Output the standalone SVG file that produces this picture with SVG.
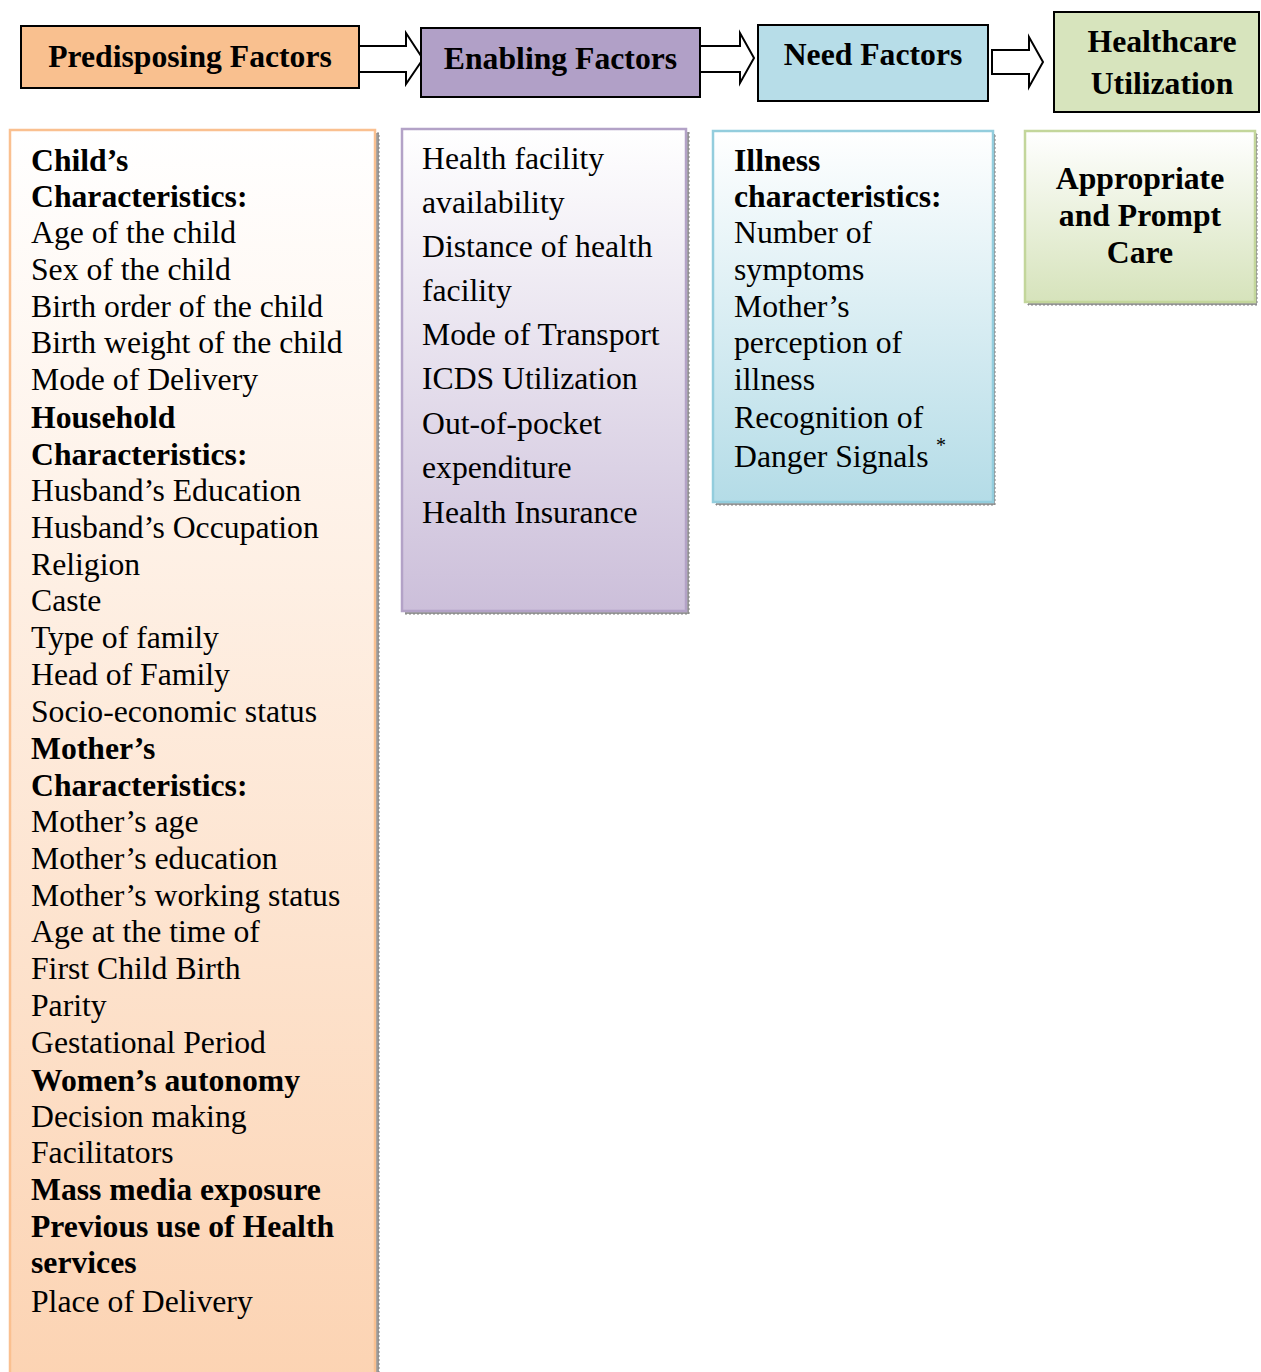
<svg xmlns="http://www.w3.org/2000/svg" width="1261" height="1372" viewBox="0 0 1261 1372">
<defs>
<linearGradient id="gP" x1="0" y1="0" x2="0" y2="1"><stop offset="0" stop-color="#FFFFFF"/><stop offset="1" stop-color="#FCD3B2"/></linearGradient>
<linearGradient id="gE" x1="0" y1="0" x2="0" y2="1"><stop offset="0" stop-color="#FFFFFF"/><stop offset="1" stop-color="#CCBFDA"/></linearGradient>
<linearGradient id="gN" x1="0" y1="0" x2="0" y2="1"><stop offset="0" stop-color="#FFFFFF"/><stop offset="1" stop-color="#B4DCE7"/></linearGradient>
<linearGradient id="gA" x1="0" y1="0" x2="0" y2="1"><stop offset="0" stop-color="#FFFFFF"/><stop offset="1" stop-color="#D6E3BB"/></linearGradient>
</defs>
<style>
text{font-family:"Liberation Serif","Times New Roman",serif;font-size:31.7px;fill:#000}
.b{font-weight:bold}
.c{text-anchor:middle}
.hdr{stroke:#000;stroke-width:2}
.arrow{fill:#FFFFFF;stroke:#000;stroke-width:2;stroke-linejoin:miter}
.shadow{fill:#9A9A9A;stroke:#808080;stroke-width:1;stroke-dasharray:2 2}
.box{stroke-width:2.5}
</style>

<g id="connectors">
<path class="arrow" d="M359,46 H406 V33 L423,59 L406,84 V72 H359 Z"/>
<path class="arrow" d="M700,46 H740 V33 L754,58 L740,83 V72 H700 Z"/>
<path class="arrow" d="M992,50 H1029 V37 L1043,62 L1029,87 V74 H992 Z"/>
</g>

<g id="predisposing-header">
<rect class="hdr" x="21" y="26" width="338" height="62" fill="#F9C08F"/>
<text class="b c" x="190" y="67">Predisposing Factors</text>
</g>
<g id="enabling-header">
<rect class="hdr" x="421" y="28" width="279" height="69" fill="#B1A0C7"/>
<text class="b c" x="560.5" y="69">Enabling Factors</text>
</g>
<g id="need-header">
<rect class="hdr" x="758" y="25" width="230" height="76" fill="#B7DDE8"/>
<text class="b c" x="873" y="65">Need Factors</text>
</g>
<g id="utilization-header">
<rect class="hdr" x="1054" y="12" width="205" height="100" fill="#D7E4BD"/>
<text class="b c" x="1162" y="52">Healthcare</text>
<text class="b c" x="1162" y="94">Utilization</text>
</g>

<g id="predisposing-list">
<rect class="shadow" x="13" y="133" width="366" height="1260"/>
<rect class="box" x="10" y="130" width="365" height="1260" fill="url(#gP)" stroke="#FAC090"/>
<text class="b" x="31" y="171">Child’s</text>
<text class="b" x="31" y="207">Characteristics:</text>
<text x="31" y="243">Age of the child</text>
<text x="31" y="280">Sex of the child</text>
<text x="31" y="317">Birth order of the child</text>
<text x="31" y="353">Birth weight of the child</text>
<text x="31" y="390">Mode of Delivery</text>
<text class="b" x="31" y="428">Household</text>
<text class="b" x="31" y="465">Characteristics:</text>
<text x="31" y="501">Husband’s Education</text>
<text x="31" y="538">Husband’s Occupation</text>
<text x="31" y="575">Religion</text>
<text x="31" y="611">Caste</text>
<text x="31" y="648">Type of family</text>
<text x="31" y="685">Head of Family</text>
<text x="31" y="722">Socio-economic status</text>
<text class="b" x="31" y="759">Mother’s</text>
<text class="b" x="31" y="796">Characteristics:</text>
<text x="31" y="832">Mother’s age</text>
<text x="31" y="869">Mother’s education</text>
<text x="31" y="906">Mother’s working status</text>
<text x="31" y="942">Age at the time of</text>
<text x="31" y="979">First Child Birth</text>
<text x="31" y="1016">Parity</text>
<text x="31" y="1053">Gestational Period</text>
<text class="b" x="31" y="1091">Women’s autonomy</text>
<text x="31" y="1127">Decision making</text>
<text x="31" y="1163">Facilitators</text>
<text class="b" x="31" y="1200">Mass media exposure</text>
<text class="b" x="31" y="1237">Previous use of Health</text>
<text class="b" x="31" y="1273">services</text>
<text x="31" y="1312">Place of Delivery</text>
</g>

<g id="enabling-list">
<rect class="shadow" x="405" y="132" width="284" height="482"/>
<rect class="box" x="402" y="129" width="284" height="482" fill="url(#gE)" stroke="#B3A2C7"/>
<text x="422" y="169">Health facility</text>
<text x="422" y="213">availability</text>
<text x="422" y="257">Distance of health</text>
<text x="422" y="301">facility</text>
<text x="422" y="345">Mode of Transport</text>
<text x="422" y="389">ICDS Utilization</text>
<text x="422" y="434">Out-of-pocket</text>
<text x="422" y="478">expenditure</text>
<text x="422" y="523">Health Insurance</text>
</g>

<g id="need-list">
<rect class="shadow" x="716" y="134" width="279" height="371"/>
<rect class="box" x="713" y="131" width="280" height="371" fill="url(#gN)" stroke="#93CDDD"/>
<text class="b" x="734" y="171">Illness</text>
<text class="b" x="734" y="207">characteristics:</text>
<text x="734" y="243">Number of</text>
<text x="734" y="280">symptoms</text>
<text x="734" y="317">Mother’s</text>
<text x="734" y="353">perception of</text>
<text x="734" y="390">illness</text>
<text x="734" y="428">Recognition of</text>
<text x="734" y="467">Danger Signals</text>
<text x="936" y="452" style="font-size:20px">*</text>
</g>

<g id="care-box">
<rect class="shadow" x="1028" y="134" width="229" height="171"/>
<rect class="box" x="1025" y="131" width="230" height="171" fill="url(#gA)" stroke="#C3D69B"/>
<text class="b c" x="1140" y="189">Appropriate</text>
<text class="b c" x="1140" y="226">and Prompt</text>
<text class="b c" x="1140" y="263">Care</text>
</g>
</svg>
